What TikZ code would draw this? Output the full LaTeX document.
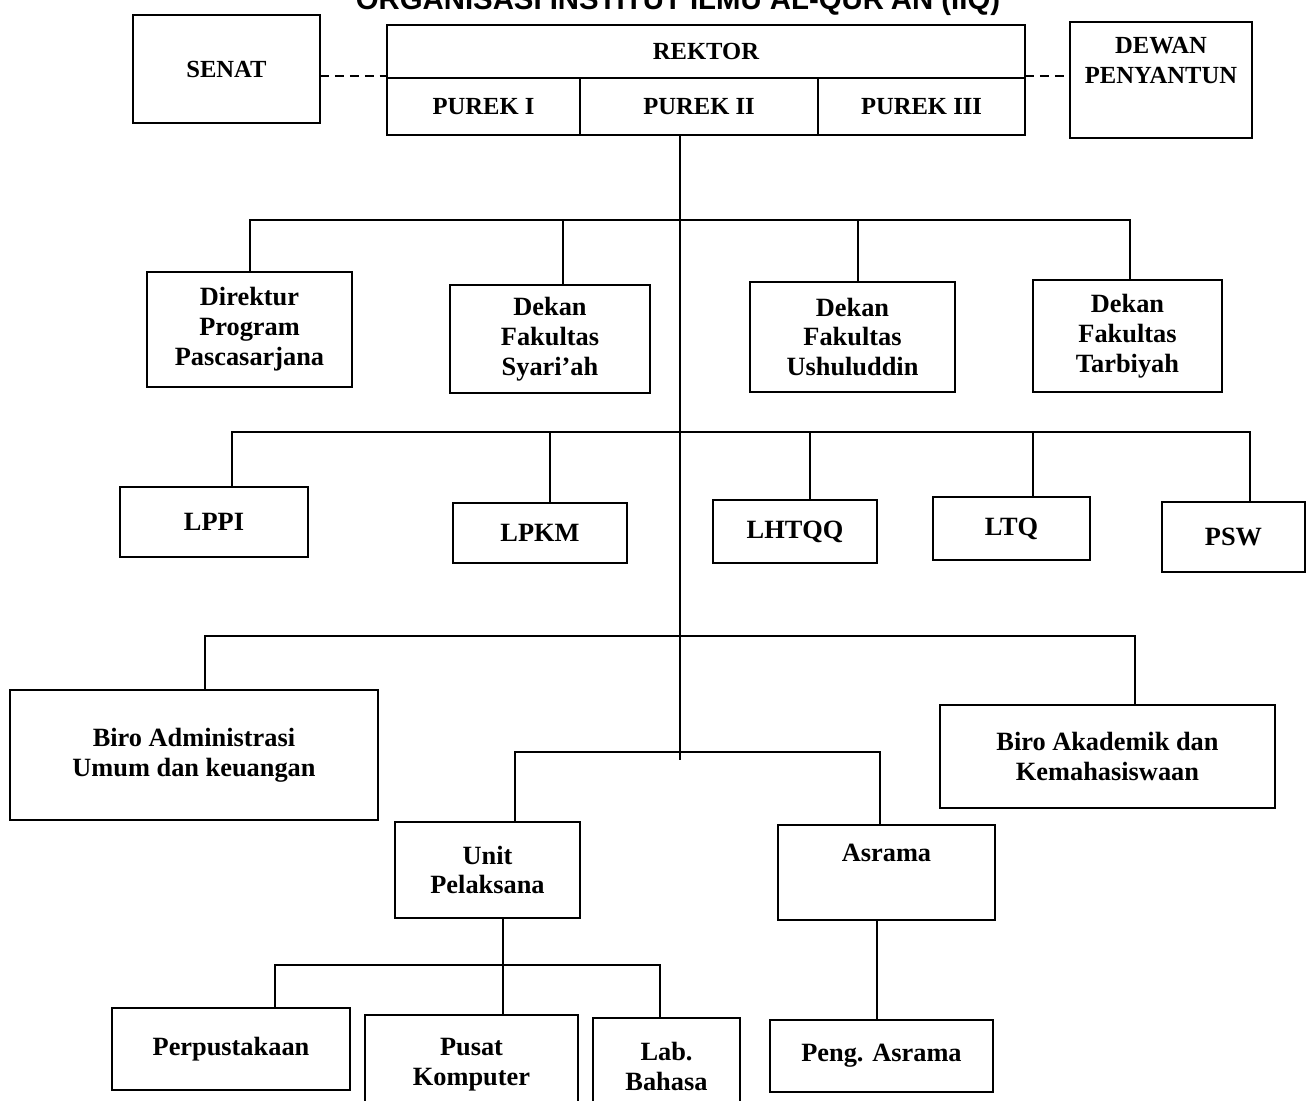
\documentclass[tikz,border=0pt]{standalone}
\usepackage{fontspec}
\setmainfont{Liberation Serif}
\newfontfamily\titlefont{Liberation Sans}
\begin{document}
\begin{tikzpicture}[x={(0.02cm,0)},y={(0,-0.02cm)},
  box/.style={draw, line width=1pt, inner sep=0pt, outer sep=0pt, align=center,
    font=\bfseries\fontsize{15}{17}\selectfont},
  topbox/.style={box, font=\bfseries\fontsize{14}{17}\selectfont},
  heavy/.style={line width=1.5pt},
  wh/.style 2 args={minimum width=#1*0.02cm, minimum height=#2*0.02cm},
  conn/.style={line width=0.9pt},
  dashconn/.style={line width=0.9pt, dash pattern=on 5pt off 3.5pt}]
\useasboundingbox (0,0) rectangle (1316,1100);

% title (cut at top of page)
\node[anchor=base, inner sep=0pt, font=\titlefont\bfseries\fontsize{16.7}{18}\selectfont] (title) at (678,9)
  {ORGANISASI INSTITUT ILMU AL-QUR'AN (IIQ)};

% top row
\node[topbox, wh={187}{108}] (senat) at (226.5,69) {SENAT};
\node[topbox, wh={638}{53}] (rektor) at (706,51.5) {REKTOR};
\node[topbox, wh={193}{57}] (purek1) at (483.5,106.5) {PUREK I};
\node[topbox, wh={238}{57}] (purek2) at (699,106.5) {PUREK II};
\node[topbox, wh={207}{57}] (purek3) at (921.5,106.5) {PUREK III};
\node[topbox, wh={182}{116}] (dewan) at (1161,80) {DEWAN\\PENYANTUN\\\strut};

\coordinate (dl) at (0,76);
\draw[dashconn] (senat.east |- dl) -- (rektor.west |- dl);
\draw[dashconn] (rektor.east |- dl) -- (dewan.west |- dl);

% row 1
\node[box, wh={205}{115}] (dir) at (249.5,329.5) {Direktur\\Program\\Pascasarjana};
\node[box, wh={200}{108}] (syr) at (550,339) {Dekan\\Fakultas\\Syari'ah};
\node[box, wh={205}{110}] (ush) at (852.5,337) {Dekan\\Fakultas\\Ushuluddin};
\node[box, wh={189}{112}] (tar) at (1127.5,336) {Dekan\\Fakultas\\Tarbiyah};

% row 2
\node[box, wh={188}{70}] (lppi) at (214,522) {LPPI};
\node[box, wh={174}{60}] (lpkm) at (540,533) {LPKM};
\node[box, wh={164}{63}] (lhtqq) at (795,531.5) {LHTQQ};
\node[box, wh={157}{63}] (ltq) at (1011.5,528.5) {LTQ};
\node[box, wh={143}{70}] (psw) at (1233.5,537) {PSW};

% row 3
\node[box, wh={368}{130}] (adm) at (194,755) {Biro Administrasi\\Umum dan keuangan};
\node[box, wh={335}{103}] (akd) at (1107.5,756.5) {Biro Akademik dan\\Kemahasiswaan};

% row 4
\node[box, wh={185}{96}] (unit) at (487.5,870) {Unit\\Pelaksana};
\node[box, wh={217}{95}] (asr) at (886.5,872.5) {Asrama\\\strut};

% row 5
\node[box, heavy, wh={238}{82}] (perp) at (231,1049) {Perpustakaan};
\node[box, heavy, wh={213}{100}] (pusat) at (471.5,1065) {Pusat\\Komputer};
\node[box, heavy, wh={147}{97}] (lab) at (666.5,1066.5) {Lab.\\Bahasa};
\node[box, heavy, wh={223}{72}] (peng) at (881.5,1056) {Peng. Asrama};

% main trunk
\coordinate (trunk) at (680,0);
\coordinate (trunkend) at (680,760);
\draw[conn] (purek2.south -| trunk) -- (trunkend);

% bus 1
\coordinate (b1a) at (250,220);
\coordinate (b1b) at (563,220);
\coordinate (b1c) at (858,220);
\coordinate (b1d) at (1130,220);
\draw[conn] (b1a |- dir.north) -- (b1a) -- (b1d) -- (b1d |- tar.north);
\draw[conn] (b1b) -- (b1b |- syr.north);
\draw[conn] (b1c) -- (b1c |- ush.north);

% bus 2
\coordinate (b2a) at (232,432);
\coordinate (b2b) at (550,432);
\coordinate (b2c) at (810,432);
\coordinate (b2d) at (1033,432);
\coordinate (b2e) at (1250,432);
\draw[conn] (b2a |- lppi.north) -- (b2a) -- (b2e) -- (b2e |- psw.north);
\draw[conn] (b2b) -- (b2b |- lpkm.north);
\draw[conn] (b2c) -- (b2c |- lhtqq.north);
\draw[conn] (b2d) -- (b2d |- ltq.north);

% bus 3
\coordinate (b3a) at (205,636);
\coordinate (b3b) at (1135,636);
\draw[conn] (b3a |- adm.north) -- (b3a) -- (b3b) -- (b3b |- akd.north);

% bus 4
\coordinate (b4a) at (515,752);
\coordinate (b4b) at (880,752);
\draw[conn] (b4a |- unit.north) -- (b4a) -- (b4b) -- (b4b |- asr.north);

% bus 5
\coordinate (u5) at (503,0);
\coordinate (b5a) at (275,965);
\coordinate (b5b) at (503,965);
\coordinate (b5c) at (660,965);
\draw[conn] (unit.south -| u5) -- (b5b |- pusat.north);
\draw[conn] (b5a |- perp.north) -- (b5a) -- (b5c) -- (b5c |- lab.north);

% asrama
\coordinate (a5) at (877,0);
\draw[conn] (asr.south -| a5) -- (peng.north -| a5);
\end{tikzpicture}
\end{document}
